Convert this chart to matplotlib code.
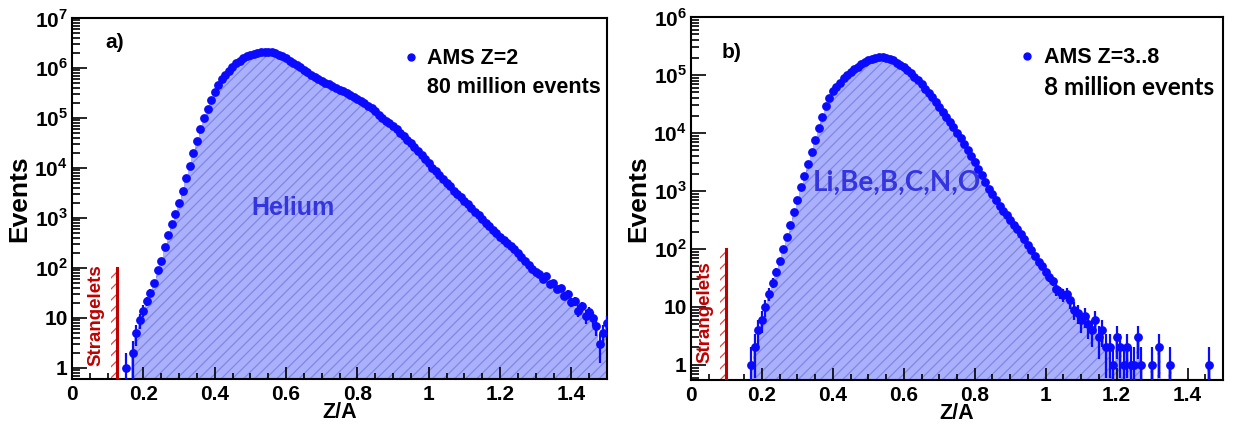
import numpy as np
import matplotlib
matplotlib.use('Agg')
import matplotlib.pyplot as plt
from matplotlib.ticker import FixedLocator, FuncFormatter, MultipleLocator, LogLocator, NullFormatter
from matplotlib.lines import Line2D

plt.rcParams['font.family'] = ['Liberation Sans', 'DejaVu Sans']
plt.rcParams['font.weight'] = 'bold'
plt.rcParams['mathtext.fontset'] = 'custom'
plt.rcParams['mathtext.rm'] = 'Liberation Sans:bold'
plt.rcParams['mathtext.bf'] = 'Liberation Sans:bold'
plt.rcParams['hatch.linewidth'] = 0.9

# ---- panel a: Z=2 (helium), bins of 0.01 in Z/A starting at 0.15
za_a_start = 0.15
counts_a = [1, 0, 2, 5, 9, 14, 22, 32, 50, 90,
            140, 260, 450, 740, 1200, 2000, 3500, 6300, 1.1e4, 2e4,
            3.5e4, 6e4, 1e5, 1.5e5, 2.3e5, 3.3e5, 4.5e5, 5.9e5, 7.4e5, 8.9e5,
            1.07e6, 1.23e6, 1.4e6, 1.55e6, 1.7e6, 1.82e6, 1.9e6, 2.0e6, 2.05e6, 2.1e6,
            2.1e6, 2.05e6, 1.95e6, 1.82e6, 1.7e6, 1.55e6, 1.38e6, 1.26e6, 1.15e6, 1.05e6,
            9.3e5, 8.3e5, 7.4e5, 6.6e5, 6e5, 5.6e5, 5.1e5, 4.8e5, 4.4e5, 4e5,
            3.7e5, 3.4e5, 3.2e5, 2.9e5, 2.6e5, 2.4e5, 2.2e5, 1.95e5, 1.74e5, 1.55e5,
            1.35e5, 1.17e5, 1.02e5, 8.9e4, 7.8e4, 6.8e4, 5.9e4, 5e4, 4.3e4, 3.6e4,
            3.1e4, 2.6e4, 2.2e4, 1.8e4, 1.5e4, 1.26e4, 1.02e4, 8500, 7100, 6000,
            5000, 4300, 3500, 3000, 2600, 2200, 1860, 1580, 1320, 1120,
            950, 810, 690, 575, 490, 420, 360, 310, 270, 235,
            200, 165, 140, 115, 95, 83, 75, 60, 68, 48,
            50, 38, 40, 28, 30, 21, 22, 14, 17, 11,
            13, 10, 7, 3, 5, 8]

# ---- panel b: Z=3..8, bins of 0.01 starting at 0.17
za_b_start = 0.17
counts_b = [1, 2, 4, 6, 10, 17, 26, 40, 62, 100,
            160, 260, 430, 700, 1150, 1800, 2900, 4700, 7600, 1.2e4,
            1.9e4, 2.9e4, 4.0e4, 5.2e4, 6.3e4, 7.4e4, 8.7e4, 1.0e5, 1.12e5, 1.26e5,
            1.4e5, 1.55e5, 1.7e5, 1.82e5, 1.9e5, 1.98e5, 2.04e5, 2.04e5, 2.0e5, 1.9e5,
            1.78e5, 1.62e5, 1.48e5, 1.35e5, 1.2e5, 1.07e5, 9.4e4, 8.1e4, 6.9e4, 5.8e4,
            4.9e4, 4.1e4, 3.4e4, 2.8e4, 2.3e4, 1.9e4, 1.55e4, 1.25e4, 1.0e4, 8100,
            6500, 5100, 4000, 3100, 2400, 1850, 1400, 1100, 870, 690,
            560, 460, 380, 320, 260, 220, 180, 150, 118, 95,
            75, 60, 50, 40, 33, 28, 20, 18, 16, 17,
            13, 9, 8, 6, 7, 5, 4, 6, 3, 4,
            2, 2, 1, 3, 2, 1, 2, 1, 1, 3,
            1, 0, 0, 1, 0, 2, 0, 0, 1, 0,
            0, 0, 0, 0, 0, 0, 0, 0, 0, 1,
            0, 0, 0, 0]

legend_a = ['AMS Z=2', '80 million events']
legend_b = ['AMS Z=3..8', '8 million events']
ytick_a = [1, 10, 1e2, 1e3, 1e4, 1e5, 1e6, 1e7]
ytick_b = [1, 10, 1e2, 1e3, 1e4, 1e5, 1e6]

BLUE = '#0a0aff'
FILL = '#aab0fb'
HATCH = '#8088e2'
RED = '#c00000'


def yfmt(v, pos):
    if v < 1.5:
        return '1'
    if v < 15:
        return '10'
    return r'$10^{%d}$' % int(round(np.log10(v)))


def panel(ax, start, counts, ymin, ymax, yticks, strange_x, leg, leg_pos, leg_sizes,
          label, label_xy, name, name_xy, name_font, name_size, leg2_font, text_x):
    counts = np.array(counts, dtype=float)
    x = start + 0.01 * np.arange(len(counts))
    top = np.where(counts > 0, counts, ymin * 0.5)
    ax.fill_between(x, ymin * 0.5, top, step='mid', facecolor=FILL, edgecolor='none', lw=0)
    ax.fill_between(x, ymin * 0.5, top, step='mid', facecolor='none', edgecolor=HATCH,
                    hatch='///', lw=0)
    ax.axhline(ymin * 1.01, xmin=(x[0] - 0.005) / 1.5, color='#9090f0', lw=1.5, zorder=1)
    ok = counts > 0
    err = np.sqrt(counts[ok])
    lo = np.minimum(err, counts[ok] - ymin * 0.3)
    h = ax.errorbar(x[ok], counts[ok], yerr=[lo, err], fmt='o', color=BLUE, ms=5.3,
                    elinewidth=1.6, capsize=0, zorder=3)
    # strangelets region
    ax.plot([strange_x, strange_x], [ymin, 100], color=RED, lw=2.2, zorder=4)
    ax.fill_betweenx([ymin, 100], strange_x - 0.018, strange_x - 0.003, facecolor='none',
                     edgecolor='#d84a4a', hatch='///', lw=0, zorder=2)
    ax.text(text_x, 1.1, 'Strangelets', rotation=90, color=RED, fontsize=13.5,
            fontweight='bold', ha='center', va='bottom')
    ax.text(label_xy[0], label_xy[1], label, fontsize=15, fontweight='bold', ha='center', va='center')
    ax.text(name_xy[0], name_xy[1], name, fontsize=name_size, fontweight='bold', color='#3535e0',
            ha='center', va='center', family=name_font)

    handles = [Line2D([], [], ls='none', marker='o', color=BLUE, ms=5),
               Line2D([], [], ls='none')]
    lg = ax.legend(handles, leg, loc='upper left', bbox_to_anchor=leg_pos, frameon=False,
                   fontsize=leg_sizes[0], handlelength=0.8, handletextpad=0.35, labelspacing=0.35,
                   borderaxespad=0)
    lg.get_texts()[1].set_family(leg2_font)
    lg.get_texts()[1].set_fontsize(leg_sizes[1])

    ax.set_yscale('log')
    ax.set_xlim(0, 1.5)
    ax.set_ylim(ymin, ymax)
    ax.yaxis.set_major_locator(FixedLocator(yticks))
    ax.yaxis.set_major_formatter(FuncFormatter(yfmt))
    ax.yaxis.set_minor_locator(LogLocator(base=10, subs=np.arange(2, 10), numticks=20))
    ax.yaxis.set_minor_formatter(NullFormatter())
    ax.xaxis.set_major_locator(MultipleLocator(0.2))
    ax.xaxis.set_minor_locator(MultipleLocator(0.05))
    ax.xaxis.set_major_formatter(FuncFormatter(lambda v, p: '0' if abs(v) < 1e-9 else ('1' if abs(v - 1) < 1e-9 else '%g' % v)))
    ax.tick_params(which='both', direction='in', labelsize=15, width=1.2)
    ax.tick_params(axis='x', which='major', length=9, pad=4)
    ax.tick_params(axis='x', which='minor', length=4.5)
    ax.tick_params(axis='y', which='major', length=11, pad=3)
    ax.tick_params(axis='y', which='minor', length=6)
    for t in ax.get_xticklabels() + ax.get_yticklabels():
        t.set_fontweight('bold')
    for s in ax.spines.values():
        s.set_linewidth(1.5)
    ax.set_xlabel('Z/A', fontsize=15.5, fontweight='bold', labelpad=-1)
    ax.set_ylabel('Events', fontsize=19, fontweight='bold', labelpad=2)
    return h


fig = plt.figure(figsize=(12.34, 4.25), dpi=100)
ax1 = fig.add_axes([72 / 1234, 46 / 425, 535 / 1234, 361 / 425])
ax2 = fig.add_axes([691 / 1234, 45 / 425, 532 / 1234, 363 / 425])

panel(ax1, za_a_start, counts_a, 0.6, 1e7, ytick_a, 0.126, legend_a, (0.602, 0.94), (15.5, 15.5),
      'a)', (0.12, 3.2e6), 'Helium', (0.62, 1.6e3), 'Liberation Sans', 18, 'Liberation Sans', 0.066)
panel(ax2, za_b_start, counts_b, 0.55, 1e6, ytick_b, 0.1, legend_b, (0.6, 0.94), (15.5, 17.5),
      'b)', (0.115, 2.4e5), 'Li,Be,B,C,N,O', (0.58, 1.4e3), 'Lato', 20, 'Lato', 0.04)

fig.savefig('out.png', dpi=100)
